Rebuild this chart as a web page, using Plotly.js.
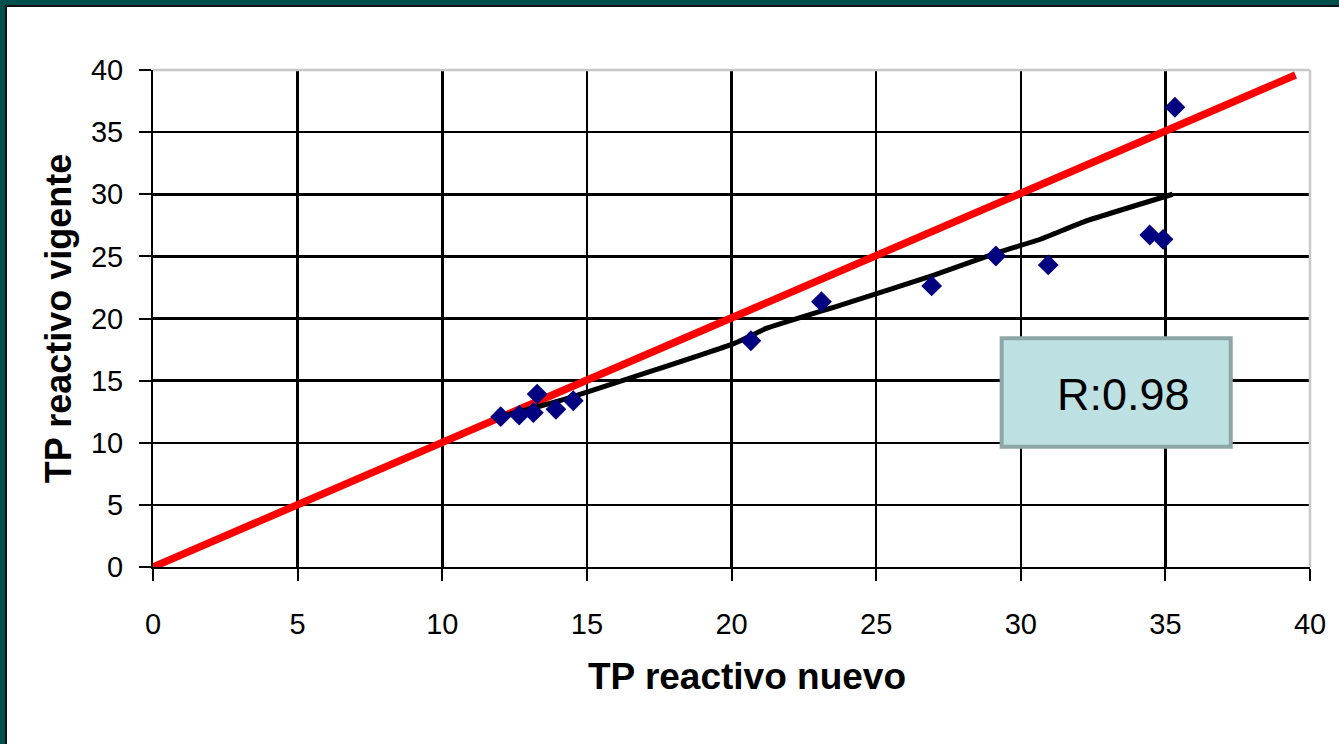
<!DOCTYPE html>
<html>
<head>
<meta charset="utf-8">
<script src="https://cdn.plot.ly/plotly-3.0.1.min.js"></script>
<style>
  html, body { margin: 0; padding: 0; background: #ffffff; }
  #wrap { position: relative; width: 1339px; height: 744px; overflow: hidden; background: #ffffff; }
  #chart { position: absolute; left: 0; top: 0; width: 1339px; height: 744px; }
  #bTop { position: absolute; left: 0; top: 0; width: 1339px; height: 5px; background: #02504e; }
  #bTop2 { position: absolute; left: 5px; top: 5px; width: 1334px; height: 2px; background: #111; }
  #bLeft { position: absolute; left: 0; top: 0; width: 5px; height: 744px; background: #02504e; }
  #bLeft2 { position: absolute; left: 5px; top: 5px; width: 2px; height: 739px; background: #111; }
</style>
</head>
<body>
<div id="wrap">
  <div id="chart"></div>
  <div id="bTop"></div><div id="bTop2"></div><div id="bLeft"></div><div id="bLeft2"></div>
</div>
<script>
// Measured points: TP reactivo nuevo (x) vs TP reactivo vigente (y)
const tpNuevo    = [12.02, 12.66, 13.15, 13.28, 13.93, 14.53, 20.67, 23.11, 26.92, 29.14, 30.95, 34.46, 34.92, 35.33];
const tpVigente  = [12.10, 12.23, 12.42, 13.92, 12.69, 13.38, 18.21, 21.35, 22.62, 25.03, 24.31, 26.72, 26.37, 37.00];

// Fitted (smoothed) trend line
const trendX = [12.0, 13.3, 14.5, 20.1, 21.2, 23.8, 27.0, 29.2, 30.7, 32.2, 35.25];
const trendY = [12.1, 12.9, 13.7, 18.0, 19.2, 21.1, 23.5, 25.3, 26.4, 27.8, 30.0];

// Identity reference line
const identX = [0, 39.5];
const identY = [0, 39.6];

const tickVals = [0, 5, 10, 15, 20, 25, 30, 35, 40];
const rLabel = "R:0.98";
const xTitle = "TP reactivo nuevo";
const yTitle = "TP reactivo vigente";

const traces = [
  { x: identX, y: identY, type: 'scatter', mode: 'lines',
    line: { color: '#ff0000', width: 7.5 }, hoverinfo: 'skip', showlegend: false },
  { x: trendX, y: trendY, type: 'scatter', mode: 'lines',
    line: { color: '#000000', width: 5, shape: 'spline', smoothing: 0.4 }, hoverinfo: 'skip', showlegend: false },
  { x: tpNuevo, y: tpVigente, type: 'scatter', mode: 'markers',
    marker: { symbol: 'diamond', color: '#000080', size: 16 }, showlegend: false }
];

const axisFont = { family: 'Liberation Sans, Arial, sans-serif', size: 29, color: '#000' };
const titleFont = { family: 'Liberation Sans, Arial, sans-serif', size: 36, color: '#000', weight: 'bold' };
const xTitleFont = { family: 'Liberation Sans, Arial, sans-serif', size: 37, color: '#000', weight: 'bold' };

const layout = {
  width: 1339, height: 744,
  paper_bgcolor: '#ffffff', plot_bgcolor: '#ffffff',
  margin: { l: 153, r: 29, t: 70, b: 177 },
  showlegend: false,
  xaxis: {
    range: [0, 40], tickvals: tickVals, ticktext: tickVals.map(String),
    showgrid: true, gridcolor: '#000', gridwidth: 2.5,
    zeroline: false, showline: true, linecolor: '#000', linewidth: 2,
    ticks: 'outside', ticklen: 12, tickwidth: 2, tickcolor: '#000',
    ticklabelstandoff: 18,
    tickfont: axisFont,
    fixedrange: true
  },
  yaxis: {
    range: [0, 40], tickvals: tickVals, ticktext: tickVals.map(String),
    showgrid: true, gridcolor: '#000', gridwidth: 2.5,
    zeroline: false, showline: true, linecolor: '#000', linewidth: 2,
    ticks: 'outside', ticklen: 12, tickwidth: 2, tickcolor: '#000',
    ticklabelstandoff: 10,
    tickfont: axisFont,
    title: { text: yTitle, font: titleFont, standoff: 8 },
    fixedrange: true
  },
  shapes: [
    { type: 'line', xref: 'paper', yref: 'paper', x0: 0, x1: 1, y0: 1, y1: 1,
      line: { color: '#c8c8c8', width: 2.5 }, layer: 'above' },
    { type: 'line', xref: 'paper', yref: 'paper', x0: 1, x1: 1, y0: 0, y1: 1,
      line: { color: '#c8c8c8', width: 2.5 }, layer: 'above' },
    { type: 'rect', xref: 'x', yref: 'y', x0: 29.34, x1: 37.26, y0: 9.68, y1: 18.41,
      fillcolor: '#bde0e3', line: { color: '#8ea6a6', width: 4 }, layer: 'above' }
  ],
  annotations: [
    { x: 33.56, y: 13.92, xref: 'x', yref: 'y', text: rLabel, showarrow: false,
      font: { family: 'Liberation Sans, Arial, sans-serif', size: 45, color: '#000' } },
    { x: 0.5134, y: -0.2213, xref: 'paper', yref: 'paper', text: xTitle, showarrow: false,
      xanchor: 'center', yanchor: 'middle', font: xTitleFont }
  ]
};

Plotly.newPlot('chart', traces, layout, { displayModeBar: false, staticPlot: true });
</script>
</body>
</html>
